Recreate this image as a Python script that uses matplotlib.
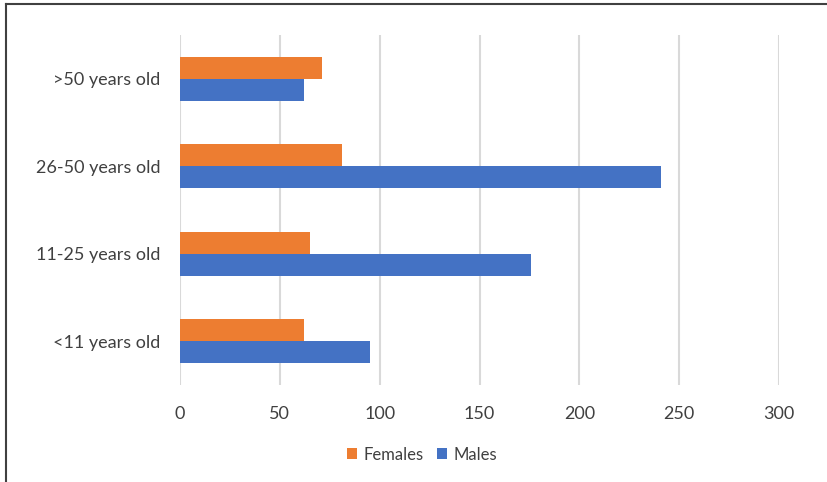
import numpy as np
import matplotlib.pyplot as plt
from matplotlib.lines import Line2D

# age groups, bottom to top
groups = ['<11 years old', '11-25 years old', '26-50 years old', '>50 years old']
females = [62, 65, 81, 71]
males = [95, 176, 241, 62]
xticks = [0, 50, 100, 150, 200, 250, 300]

plt.rcParams['font.family'] = ['Lato', 'DejaVu Sans']

fig = plt.figure(figsize=(8.27, 4.82), dpi=100)
ax = fig.add_axes([0.2177, 0.2012, 0.7243, 0.7262])

ind = np.arange(len(groups))
h = 0.25
ax.barh(ind + h / 2, females, h, color='#ED7D31', label='Females', zorder=3)
ax.barh(ind - h / 2, males, h, color='#4472C4', label='Males', zorder=3)

ax.set_xlim(0, 300)
ax.set_ylim(-0.5, 3.5)
ax.set_xticks(xticks)
ax.set_yticks(ind)
ax.set_yticklabels(groups)
ax.tick_params(axis='both', length=0, labelsize=13, colors='#404040')
ax.tick_params(axis='y', pad=14)
ax.tick_params(axis='x', pad=15)
ax.grid(axis='x', color='#D9D9D9', lw=1.5, zorder=0)
for s in ax.spines.values():
    s.set_visible(False)

ax.legend(loc='center', bbox_to_anchor=(0.51, 0.057), bbox_transform=fig.transFigure,
          ncol=2, frameon=False, fontsize=12, handlelength=0.6, handleheight=0.6,
          handletextpad=0.4, columnspacing=0.8, labelcolor='#404040')

# outer frame along the top and left edges
fig.add_artist(Line2D([6 / 827, 6 / 827], [0, 1 - 4 / 482], color='#404040', lw=1.5))
fig.add_artist(Line2D([6 / 827, 1], [1 - 4 / 482, 1 - 4 / 482], color='#404040', lw=1.5))

fig.savefig('out.png', dpi=100)
